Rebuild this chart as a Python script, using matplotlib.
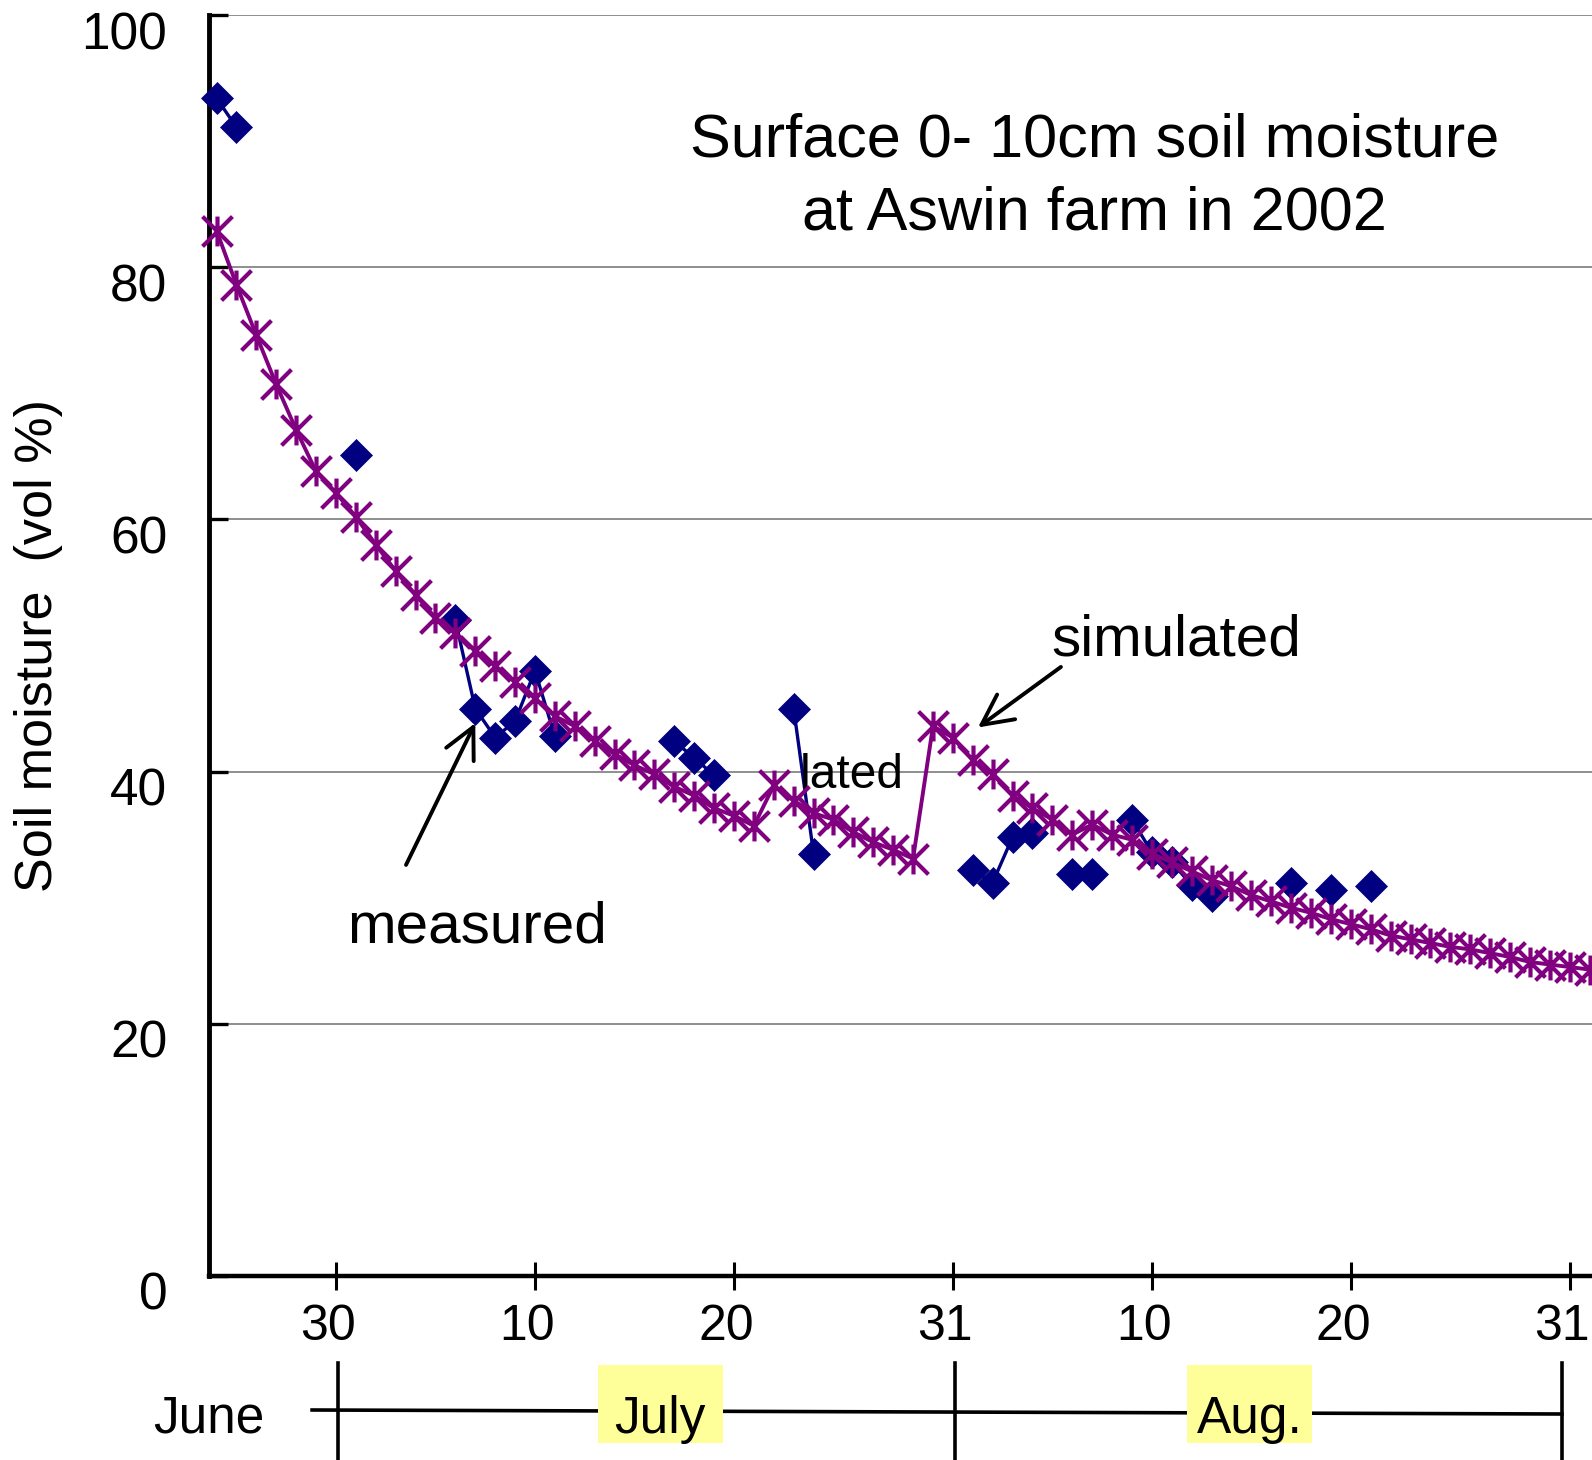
import numpy as np
import pandas as pd
import matplotlib
matplotlib.use('Agg')
import matplotlib.pyplot as plt
import matplotlib.transforms as mtransforms
from matplotlib.path import Path
from matplotlib.patches import Rectangle

plt.rcParams['font.family'] = ['Liberation Sans', 'DejaVu Sans']

# days counted from 30 June 2002 (0 = June 30, 31 = July 31, 62 = Aug 31)
sim_start = -6
sim_vals = [82.9, 78.6, 74.6, 70.7, 67.1, 63.8, 62.1, 60.2, 58.0, 55.9,
            54.0, 52.2, 51.0, 49.6, 48.4, 47.1, 45.8, 44.4, 43.6, 42.4,
            41.4, 40.5, 39.8, 38.8, 38.1, 37.1, 36.5, 35.7, 38.9, 37.7,
            36.7, 36.2, 35.2, 34.4, 33.8, 33.1, 43.6, 42.7, 40.9, 39.8,
            38.1, 37.1, 36.2, 35.0, 35.8, 35.0, 34.6, 33.5, 32.8, 32.1,
            31.4, 30.9, 30.2, 29.7, 29.2, 28.8, 28.3, 27.9, 27.5, 27.0,
            26.7, 26.4, 26.1, 25.9, 25.6, 25.3, 24.9, 24.7, 24.5, 24.3]

meas_days = [-6, -5, 1, 6, 7, 8, 9, 10, 11, 17, 18, 19, 23, 24,
             32, 33, 34, 35, 37, 38, 40, 41, 42, 43, 44, 48, 50, 52]
meas_vals = [93.4, 91.1, 65.1, 52.0, 45.0, 42.7, 44.0, 48.0, 42.8, 42.4, 41.1, 39.7, 45.0, 33.5,
             32.2, 31.2, 34.8, 35.1, 31.9, 31.9, 36.2, 33.6, 32.8, 31.0, 30.1, 31.2, 30.6, 30.9]

tick_days = [0, 10, 20, 31, 41, 51, 62]
tick_labels = ['30', '10', '20', '31', '10', '20', '31']

month_names = ['June', 'July', 'Aug.']
month_mid = [-6.4, 16.3, 45.9]
month_highlight = [False, True, True]
month_edges = [0.1, 31.1, 61.6]

sim_days = np.arange(sim_start, sim_start + len(sim_vals))
sim = pd.Series(sim_vals, index=sim_days)
meas = pd.Series(meas_vals, index=meas_days).reindex(sim_days)

px_per_day = 19.9
xmin, xmax = -6.38, 64.0

fig = plt.figure(figsize=(15.92, 14.6), dpi=100)
ax = fig.add_axes([209 / 1592, 184 / 1460, (xmax - xmin) * px_per_day / 1592, 1261 / 1460])
ax.set_xlim(xmin, xmax)
ax.set_ylim(0, 100)

# asterisk marker like excel's "star"
star = Path([(-1, -1), (1, 1), (-1, 1), (1, -1), (0, -1), (0, 1)],
            [Path.MOVETO, Path.LINETO, Path.MOVETO, Path.LINETO, Path.MOVETO, Path.LINETO])

ax.plot(meas.index, meas.values, color='#000080', lw=2.4, marker='D', ms=16,
        mfc='#000080', mec='#000080', mew=0.5, zorder=3, clip_on=False)
ax.plot(sim.index, sim.values, color='#800080', lw=2.8, marker=star, ms=21.5,
        mfc='none', mec='#800080', mew=3.0, zorder=4, clip_on=False)

ax.set_yticks([0, 20, 40, 60, 80, 100])
ax.set_yticklabels(['0', '20', '40', '60', '80', '100'])
ax.grid(axis='y', color='#707070', lw=1.1)
ax.set_axisbelow(True)
ax.tick_params(axis='y', direction='in', length=13.5, width=2.4, labelsize=37, pad=30)
ax.set_xticks(tick_days)
ax.set_xticklabels(tick_labels)
ax.tick_params(axis='x', direction='inout', length=20, width=2.2, labelsize=36, pad=10)

for s in ['top', 'right']:
    ax.spines[s].set_visible(False)
ax.spines['left'].set_linewidth(3.5)
ax.spines['bottom'].set_linewidth(3.2)

ydown = mtransforms.ScaledTranslation(0, -15 / 100, fig.dpi_scale_trans)
for lab in ax.get_yticklabels():
    lab.set_transform(lab.get_transform() + ydown)
xleft = mtransforms.ScaledTranslation(-8 / 100, 0, fig.dpi_scale_trans)
for lab in ax.get_xticklabels():
    lab.set_transform(lab.get_transform() + xleft)

fig.text(39 / 1592, 1 - 645 / 1460, 'Soil moisture  (vol %)', rotation=90,
         ha='center', va='center', fontsize=37.5)

ax.text(0.632, 0.871, 'Surface 0- 10cm soil moisture\nat Aswin farm in 2002',
        transform=ax.transAxes, ha='center', va='center', fontsize=44, linespacing=1.36)

arrow = dict(arrowstyle='->', lw=2.8, color='black', mutation_scale=55, shrinkA=0, shrinkB=0)
ax.annotate('', xy=(7.0, 43.85), xytext=(3.52, 32.6), arrowprops=arrow)
ax.text(7.1, 27.6, 'measured', ha='center', va='center', fontsize=42)
ax.annotate('', xy=(32.26, 43.5), xytext=(36.43, 48.3), arrowprops=arrow)
ax.text(42.2, 50.4, 'simulated', ha='center', va='center', fontsize=42)
ax.text(25.9, 39.7, 'lated', ha='center', va='center', fontsize=34.5)

# month bar under the axis
bt = mtransforms.blended_transform_factory(ax.transData, fig.transFigure)
ax.plot([-1.2, month_edges[-1]], [1 - 1410 / 1460, 1 - 1414 / 1460], color='black',
        lw=2.6, transform=bt, clip_on=False)
for e in month_edges:
    ax.plot([e, e], [1 - 1363 / 1460, 0], color='black', lw=2.6, transform=bt, clip_on=False)
for name, mid, hl in zip(month_names, month_mid, month_highlight):
    if hl:
        ax.add_patch(Rectangle((mid - 62.5 / px_per_day, 1 - 1443 / 1460), 125 / px_per_day, 78 / 1460,
                               facecolor='#FFFF99', edgecolor='none', transform=bt,
                               clip_on=False, zorder=5))
    ax.text(mid, 1 - 1419 / 1460, name, transform=bt, ha='center', va='center',
            fontsize=37, zorder=6)

fig.savefig('out.png', dpi=100)
